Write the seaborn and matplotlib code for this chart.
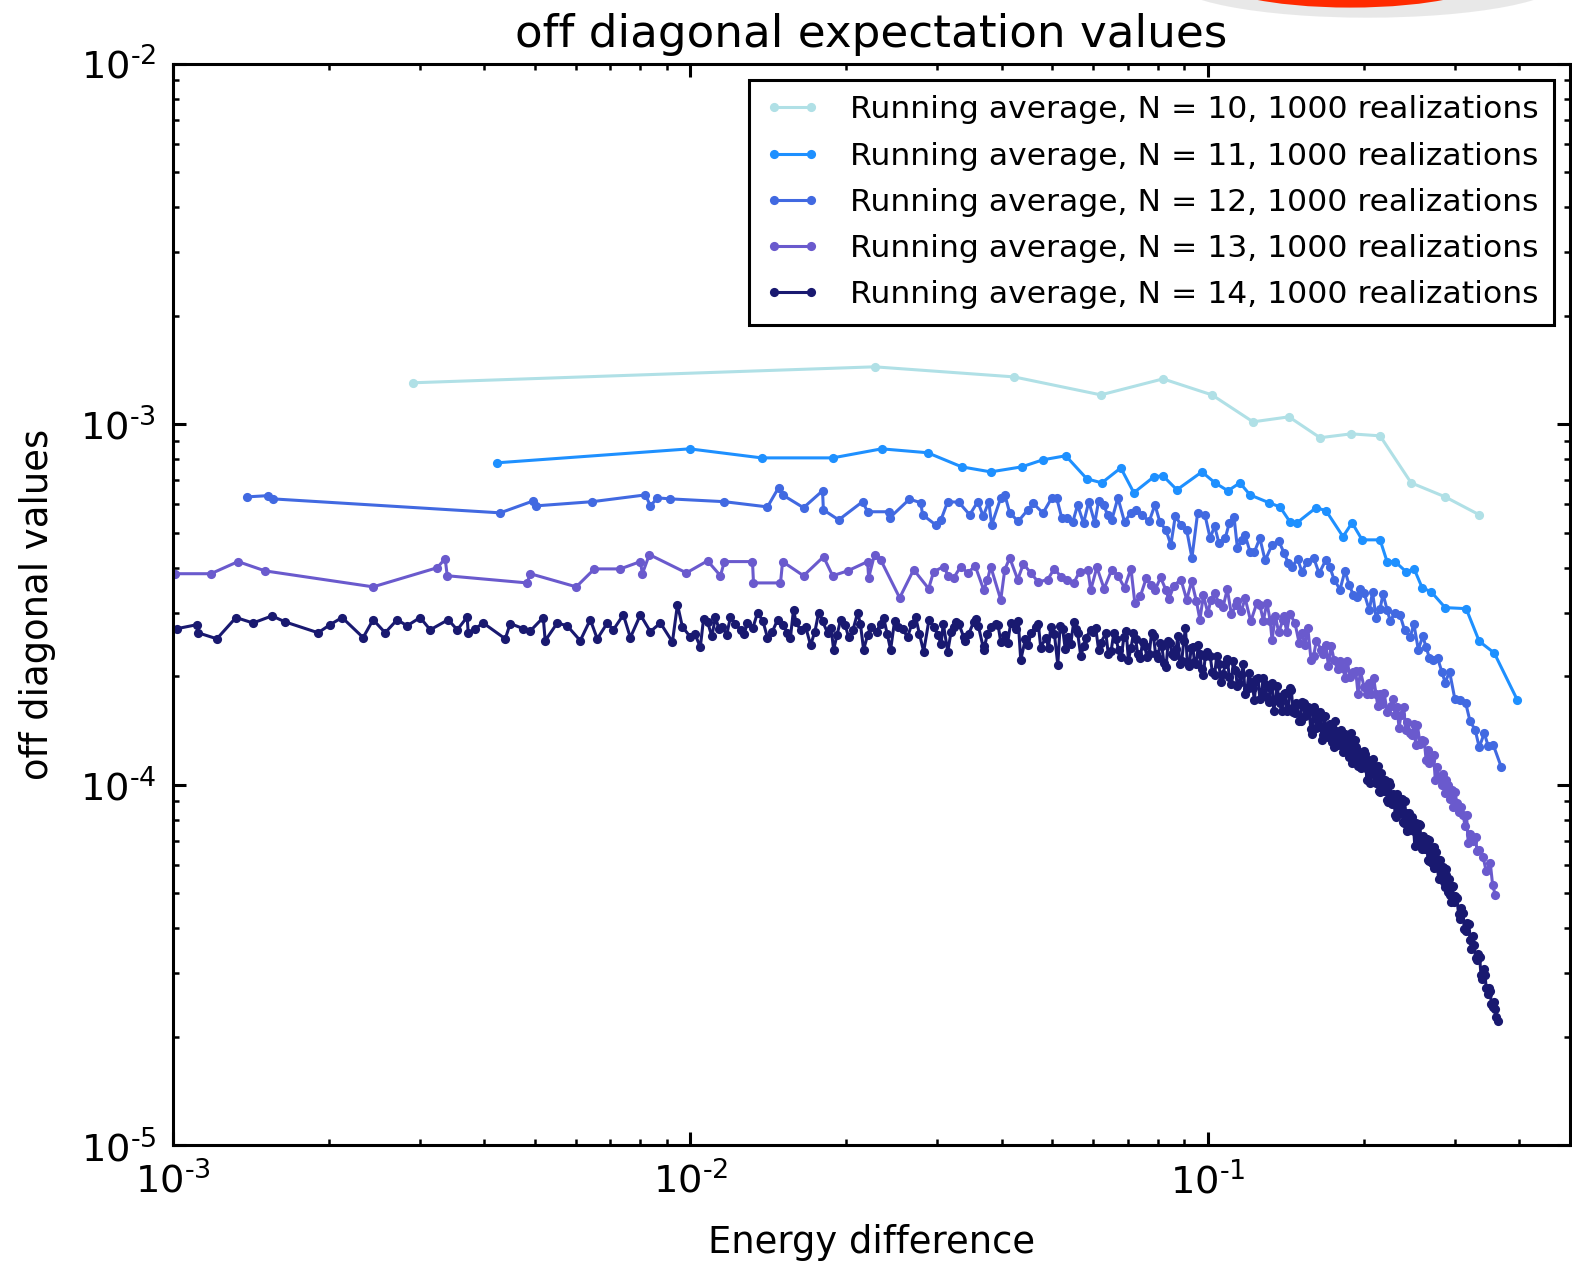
import numpy as np
import pandas as pd
import matplotlib
matplotlib.use("Agg")
import matplotlib.pyplot as plt
from matplotlib.patches import Ellipse
from matplotlib.ticker import FuncFormatter
import seaborn as sns

# energy differences are written in units of 1e-3, values in units of 1e-4
E_UNIT = 1e-3
V_UNIT = 1e-4

e10 = [2.91, 22.7, 42.2, 62.1, 81.9, 101.8, 122.2, 143.4, 164.7, 189.1, 215.1, 247.0, 287.4, 334.4]
v10 = [13.04, 14.44, 13.54, 12.07, 13.37, 12.07, 10.16, 10.49, 9.18, 9.41, 9.29, 6.88, 6.29, 5.61]

e11 = [4.23, 9.96, 13.72, 18.83, 23.41, 28.73, 33.44, 38.04, 43.67, 47.96,
       53.12, 58.34, 62.37, 67.86, 71.92, 78.62, 81.85, 87.10, 97.36, 103.2,
       109.3, 115.3, 120.6, 131.2, 137.8, 144.1, 148.6, 161.8, 169.1, 182.4,
       189.9, 198.6, 215.1, 221.9, 229.9, 241.5, 250.3, 259.4, 270.0, 287.4,
       315.5, 334.4, 357.5, 396.0]
v11 = [7.82, 8.55, 8.07, 8.07, 8.55, 8.34, 7.62, 7.38, 7.62, 7.97,
       8.18, 7.06, 6.88, 7.57, 6.46, 7.15, 7.20, 6.58, 7.38, 6.88,
       6.54, 6.88, 6.37, 6.06, 5.90, 5.36, 5.33, 5.87, 5.76, 4.88,
       5.33, 4.78, 4.78, 4.16, 4.16, 3.90, 3.97, 3.52, 3.43, 3.10,
       3.08, 2.50, 2.32, 1.72]

e12 = [1.390, 1.527, 1.561, 4.290, 4.969, 5.036, 6.461, 8.185, 8.368, 8.635,
       9.150, 11.63, 14.09, 14.80, 15.07, 16.54, 18.00, 18.07, 19.34, 21.51,
       22.00, 24.15, 24.26, 27.86, 28.10, 29.78, 31.42, 34.65, 35.91, 37.71,
       38.21, 39.78, 41.40, 44.85, 49.92, 52.18, 54.81, 58.86, 60.45, 62.92,
       65.20, 70.96, 74.51, 80.75, 84.80, 88.67, 93.13, 98.67, 105.0, 112.3,
       116.3, 120.6, 133.0, 140.3, 145.4, 155.4, 169.1, 175.3, 187.4, 194.2,
       200.3, 211.3, 221.9, 229.9, 245.9, 264.1, 272.4, 287.4, 307.2, 328.4,
       334.4, 355.9, 368.8,
       26.5, 30.5, 33.0, 36.8, 40.5, 43.0, 46.0, 48.0, 51.0, 53.5,
       56.0, 57.5, 61.5, 64.0, 67.0, 69.0, 72.5, 77.0, 79.0, 83.0,
       86.5, 91.0, 95.5, 101.0, 103.0, 108.0, 110.0, 114.0, 118.0, 123.0,
       126.0, 129.0, 137.0, 143.0, 149.0, 152.0, 160.0, 164.0, 172.0, 180.0,
       184.0, 191.0, 197.0, 205.0, 208.0, 215.0, 218.0, 225.0, 235.0, 240.0,
       250.0, 255.0, 260.0, 268.0, 278.0, 283.0, 293.0, 300.0, 315.0, 321.0,
       342.0, 348.0]
v12 = [6.29, 6.34, 6.21, 5.68, 6.13, 5.94, 6.10, 6.37, 5.94, 6.25,
       6.21, 6.10, 5.90, 6.67, 6.37, 5.87, 6.54, 5.79, 5.43, 6.10,
       5.72, 5.72, 5.50, 6.06, 5.61, 5.26, 6.10, 5.61, 6.10, 6.10,
       5.26, 6.25, 5.68, 5.79, 6.25, 5.50, 5.36, 6.10, 5.33, 5.98,
       5.43, 5.68, 5.61, 5.36, 4.63, 5.26, 4.26, 5.61, 4.69, 5.54,
       4.78, 4.43, 4.63, 4.40, 4.03, 4.16, 4.21, 3.71, 3.59, 3.32,
       3.41, 2.91, 3.06, 3.00, 2.57, 2.41, 2.22, 1.92, 1.72, 1.42,
       1.27, 1.29, 1.12,
       6.20, 5.44, 6.08, 5.56, 6.38, 5.38, 6.03, 5.67, 6.26, 5.50,
       5.97, 5.32, 6.14, 5.59, 6.25, 5.36, 5.78, 5.38, 5.98, 5.08,
       5.57, 5.08, 5.66, 4.83, 5.22, 4.83, 5.33, 4.54, 4.92, 4.43,
       4.83, 4.19, 4.75, 4.12, 4.23, 3.89, 4.27, 3.86, 4.02, 3.48,
       3.92, 3.36, 3.50, 3.05, 3.42, 3.07, 3.38, 2.85, 2.96, 2.68,
       2.79, 2.37, 2.58, 2.24, 2.24, 2.06, 2.06, 1.73, 1.68, 1.50,
       1.39, 1.28]

e13 = [0.98, 1.009, 1.184, 1.336, 1.507, 2.437, 3.241, 3.358, 3.389, 4.838, 4.903,
       6.017, 6.523, 7.321, 8.004, 8.075, 8.331, 9.824, 10.79, 11.43, 11.63,
       13.18, 13.24, 14.93, 15.07, 16.54, 18.08, 18.83, 20.13, 22.00, 22.10,
       22.69, 23.31, 25.37, 27.00, 28.86, 29.51, 30.86, 32.27, 33.29, 34.35,
       36.88, 38.04, 39.78, 41.40, 42.90, 45.46, 49.03, 51.95, 55.05, 58.60,
       59.38, 65.20, 72.23, 77.60, 82.95, 88.67, 96.50, 101.3, 105.0, 113.3,
       124.4, 133.0, 139.7, 147.3, 158.2, 165.4, 175.3, 182.4, 190.8, 200.3,
       211.3, 225.9, 236.2, 245.9, 259.4, 270.0, 279.8, 291.2, 303.1, 311.3,
       318.4, 325.5, 334.4, 351.2, 359.1,
       31.5, 35.5, 37.5, 40.5, 44.0, 47.0, 50.5, 53.5, 56.5,
       61, 63, 67, 69, 71, 74, 76, 79, 81, 84,
       86, 91, 93, 95, 98, 100, 103, 107, 109, 111,
       114, 116, 118, 121, 126, 128, 130, 132, 135, 137,
       140, 142, 144, 150, 152, 154, 156, 160, 162, 167,
       169, 171, 173, 178, 180, 184, 186, 188, 193, 195,
       197, 203, 205, 207, 209, 213, 215, 217, 219, 222,
       228, 230, 232, 234, 239, 241, 243, 248, 250, 252,
       254, 257, 262, 264, 266, 268, 273, 275, 277, 283,
       285, 287, 289, 294, 296, 298, 300, 306, 308, 314,
       316, 321, 329, 331, 340, 345, 355]
v13 = [3.85, 3.85, 3.85, 4.16, 3.92, 3.54, 4.00, 4.24, 3.80, 3.63, 3.85,
       3.54, 3.97, 3.97, 4.16, 3.85, 4.35, 3.87, 4.18, 3.80, 4.16,
       4.16, 3.63, 3.63, 4.16, 3.80, 4.29, 3.80, 3.92, 4.16, 3.75,
       4.35, 4.21, 3.30, 3.95, 3.50, 3.90, 4.03, 3.75, 4.03, 3.87,
       3.47, 4.03, 3.26, 4.26, 3.71, 3.87, 3.71, 3.78, 3.63, 3.95,
       3.47, 3.95, 3.20, 3.59, 3.47, 3.71, 2.87, 3.26, 3.20, 3.16,
       3.20, 2.52, 2.87, 2.81, 2.22, 2.37, 2.22, 2.11, 2.05, 1.87,
       1.78, 1.65, 1.56, 1.39, 1.33, 1.17, 1.05, 1.00, 0.887, 0.826,
       0.690, 0.700, 0.660, 0.607, 0.495,
       3.80, 4.05, 3.70, 3.95, 4.10, 3.65, 3.98, 3.70, 3.90,
       4.01, 3.50, 3.80, 3.52, 3.98, 3.33, 3.74, 3.46, 3.76, 3.27,
       3.57, 3.26, 3.67, 3.23, 3.35, 2.99, 3.40, 3.12, 3.49, 2.97,
       3.23, 3.03, 3.29, 2.84, 3.15, 2.85, 3.20, 2.84, 2.94, 2.65,
       2.94, 2.66, 2.98, 2.48, 2.63, 2.44, 2.72, 2.27, 2.51, 2.31,
       2.44, 2.13, 2.43, 2.09, 2.20, 1.98, 2.20, 1.99, 2.07, 1.79,
       2.07, 1.78, 1.91, 1.78, 1.98, 1.65, 1.79, 1.67, 1.80, 1.59,
       1.73, 1.56, 1.64, 1.44, 1.64, 1.42, 1.49, 1.37, 1.47, 1.29,
       1.46, 1.30, 1.32, 1.17, 1.25, 1.15, 1.21, 1.03, 1.12, 0.998,
       1.07, 0.950, 1.03, 0.912, 0.964, 0.867, 0.953, 0.839, 0.867, 0.766,
       0.824, 0.732, 0.718, 0.655, 0.632, 0.575, 0.526]

# N = 14, low energy part
e14a = [0.98, 1.018, 1.113, 1.118, 1.216, 1.324, 1.428, 1.554, 1.647, 1.908,
        2.012, 2.123, 2.331, 2.437, 2.571, 2.712, 2.835, 3.004, 3.142, 3.404,
        3.543, 3.704, 3.720, 3.838, 3.978, 4.387, 4.486, 4.753, 4.903, 5.195,
        5.241, 5.529, 5.781, 6.125, 6.405, 6.607, 6.909, 7.096, 7.420, 7.655,
        8.004, 8.368, 8.750, 9.23, 9.44, 9.65, 10.0, 10.45, 10.79, 11.18,
        11.53, 11.95, 12.50, 12.89, 13.48, 14.09, 14.74, 15.40, 15.82, 16.32,
        17.07, 17.69, 18.41, 18.91, 19.51, 20.21, 21.04, 21.61, 22.29, 23.62,
        24.37, 25.14, 26.28, 27.24, 28.23, 29.51, 31.42, 32.27, 33.73, 35.27,
        36.88, 38.04, 39.78, 41.59, 43.48, 45.46, 47.53, 49.70, 51.28, 53.61,
        55.05, 56.81, 59.38, 62.09,
        10.2, 10.6, 11.0, 11.35, 11.75, 12.2, 12.7, 13.2, 13.8, 14.4,
        15.1, 15.6, 16.0, 16.7, 17.4, 18.0, 18.7, 19.2, 19.9, 20.6,
        21.3, 22.0, 22.9, 23.3, 24.0, 24.8, 25.7, 26.8, 27.7, 28.9,
        30.1, 30.8, 31.9, 33.0, 34.5, 36.0, 37.5, 38.9, 40.6, 42.5,
        44.4, 46.5, 48.6, 50.5, 52.4, 54.3, 56.0, 58.1, 60.7,
        30.5, 32.6, 34.0, 35.6, 37.0, 39.3, 41.0, 43.0, 45.0, 47.0,
        49.2, 51.8, 53.0, 55.5, 57.5, 59.9, 61.5]
v14a = [2.71, 2.71, 2.78, 2.64, 2.54, 2.91, 2.81, 2.94, 2.83, 2.64,
        2.78, 2.91, 2.56, 2.87, 2.64, 2.87, 2.76, 2.91, 2.69, 2.87,
        2.69, 2.92, 2.64, 2.71, 2.81, 2.54, 2.80, 2.71, 2.67, 2.91,
        2.51, 2.81, 2.76, 2.51, 2.87, 2.54, 2.81, 2.69, 2.96, 2.56,
        2.96, 2.66, 2.81, 2.49, 3.16, 2.74, 2.57, 2.41, 2.83, 2.92,
        2.74, 2.92, 2.69, 2.81, 3.00, 2.56, 2.87, 2.64, 3.06, 2.69,
        2.44, 3.00, 2.64, 2.37, 2.87, 2.57, 3.00, 2.37, 2.74, 2.91,
        2.37, 2.74, 2.57, 2.92, 2.34, 2.74, 2.34, 2.74, 2.57, 2.83,
        2.37, 2.74, 2.49, 2.81, 2.22, 2.64, 2.40, 2.74, 2.15, 2.57,
        2.83, 2.27, 2.69, 2.48,
        2.62, 2.88, 2.58, 2.70, 2.60, 2.80, 2.62, 2.72, 2.85, 2.66,
        2.78, 2.55, 2.82, 2.74, 2.66, 2.84, 2.72, 2.60, 2.78, 2.68,
        2.80, 2.60, 2.66, 2.80, 2.62, 2.84, 2.70, 2.80, 2.62, 2.86,
        2.60, 2.80, 2.66, 2.80, 2.62, 2.76, 2.62, 2.80, 2.60, 2.70,
        2.54, 2.74, 2.56, 2.62, 2.70, 2.46, 2.64, 2.56, 2.72,
        2.45, 2.82, 2.50, 2.88, 2.42, 2.78, 2.47, 2.84, 2.44, 2.80,
        2.40, 2.76, 2.38, 2.70, 2.42, 2.66, 2.36]

# N = 14, high energy part (two interleaved reads of the dense band)
e14b = [63.5, 65, 66.5, 68, 69.5, 71, 72.5, 74, 75.5, 77,
        78.5, 80, 81.5, 83, 84.5, 86, 87.5, 89, 90.5, 92,
        93.5, 95, 96.5, 98, 99.5,
        101, 103, 105, 107, 109, 111, 113, 115, 117, 119,
        121, 123, 125, 127, 129, 131, 133, 135, 137, 139,
        141, 143, 145, 147, 149, 151, 153, 155, 157, 159,
        161, 163, 165, 167, 169, 171, 173, 175, 177, 179,
        181, 183, 185, 187, 189, 191, 193, 195, 197, 199,
        201, 203, 205, 207, 209, 211, 213, 215, 217, 219,
        221, 223, 225, 227, 229, 231, 233, 235, 237, 239,
        241, 243, 245, 247, 249, 251, 253, 255, 257, 259,
        261, 263, 265, 267, 269, 271, 273, 275, 277, 279,
        281, 283, 285, 287, 289, 291, 293, 295, 297, 299,
        303, 307, 311, 315, 319, 323, 327, 331, 335, 339,
        343, 347, 351, 355, 359, 363]
v14b = [2.63, 2.35, 2.53, 2.26, 2.67, 2.39, 2.53, 2.25, 2.43, 2.30,
        2.58, 2.24, 2.42, 2.12, 2.47, 2.27, 2.59, 2.20, 2.72, 2.13,
        2.41, 2.16, 2.30, 2.01, 2.34,
        2.28, 2.01, 2.16, 2.03, 2.23, 1.90, 2.08, 1.91, 2.16, 1.84,
        1.93, 1.72, 1.98, 1.81, 1.90, 1.70, 1.91, 1.72, 1.75, 1.60,
        1.80, 1.63, 1.83, 1.58, 1.67, 1.50, 1.69, 1.56, 1.60, 1.38,
        1.57, 1.45, 1.59, 1.37, 1.45, 1.36, 1.47, 1.27, 1.41, 1.32,
        1.42, 1.25, 1.32, 1.19, 1.39, 1.20, 1.27, 1.13, 1.20, 1.12,
        1.22, 1.03, 1.15, 1.07, 1.13, 1.01, 1.13, 0.952, 1.03, 0.959,
        1.01, 0.898, 1.00, 0.884, 0.913, 0.816, 0.914, 0.836, 0.911, 0.783,
        0.836, 0.744, 0.835, 0.753, 0.779, 0.677, 0.770, 0.699, 0.773, 0.663,
        0.701, 0.663, 0.706, 0.615, 0.670, 0.607, 0.672, 0.592, 0.618, 0.547,
        0.620, 0.563, 0.586, 0.519, 0.584, 0.504, 0.524, 0.473, 0.523, 0.472,
        0.484, 0.424, 0.441, 0.393, 0.410, 0.349, 0.360, 0.326, 0.333, 0.289,
        0.297, 0.263, 0.267, 0.242, 0.239, 0.221]

e14c = [64.2, 65.8, 67.2, 68.8, 70.2, 71.8, 73.2, 74.8, 76.2, 77.8,
        79.2, 80.8, 82.2, 83.8, 85.2, 86.8, 88.2, 89.8, 91.2, 92.8,
        94.2, 95.8, 97.2, 98.8,
        102, 104, 106, 108, 110, 112, 114, 116, 118, 120,
        122, 124, 126, 128, 130, 132, 134, 136, 138, 140,
        142, 144, 146, 148, 150, 152, 154, 156, 158, 160,
        162, 164, 166, 168, 170, 172, 174, 176, 178, 180,
        182, 184, 186, 188, 190, 192, 194, 196, 198, 200,
        202, 204, 206, 208, 210, 212, 214, 216, 218, 220,
        222, 224, 226, 228, 230, 232, 234, 236, 238, 240,
        242, 244, 246, 248, 250, 252, 254, 256, 258, 260,
        262, 264, 266, 268, 270, 272, 274, 276, 278, 280,
        282, 284, 286, 288, 290, 292, 294, 296, 298, 300,
        305, 309, 313, 317, 321, 325, 329, 333, 337, 341,
        345, 349, 353, 357, 361]
v14c = [2.30, 2.64, 2.36, 2.57, 2.22, 2.63, 2.30, 2.49, 2.26, 2.63,
        2.31, 2.47, 2.18, 2.50, 2.30, 2.38, 2.16, 2.50, 2.19, 2.39,
        2.19, 2.44, 2.09, 2.27,
        2.05, 2.28, 1.93, 2.16, 1.99, 2.21, 1.88, 2.02, 1.78, 2.04,
        1.86, 1.97, 1.73, 1.98, 1.75, 1.85, 1.60, 1.88, 1.69, 1.79,
        1.60, 1.86, 1.59, 1.68, 1.50, 1.70, 1.55, 1.64, 1.43, 1.64,
        1.44, 1.53, 1.33, 1.55, 1.39, 1.47, 1.31, 1.50, 1.29, 1.37,
        1.23, 1.38, 1.26, 1.33, 1.15, 1.33, 1.17, 1.23, 1.11, 1.24,
        1.11, 1.17, 1.01, 1.18, 1.02, 1.07, 0.961, 1.08, 0.978, 1.03,
        0.906, 1.02, 0.893, 0.940, 0.824, 0.941, 0.836, 0.879, 0.789, 0.900,
        0.750, 0.810, 0.751, 0.816, 0.743, 0.783, 0.690, 0.780, 0.675, 0.721,
        0.668, 0.705, 0.620, 0.702, 0.619, 0.647, 0.586, 0.649, 0.589, 0.620,
        0.551, 0.592, 0.536, 0.563, 0.520, 0.546, 0.493, 0.519, 0.478, 0.492,
        0.437, 0.454, 0.397, 0.412, 0.370, 0.380, 0.331, 0.338, 0.296, 0.308,
        0.273, 0.273, 0.246, 0.250, 0.226]

sizes = [10, 11, 12, 13, 14]
colors = ["#b0e0e6", "#1e90ff", "#4169e1", "#6a5acd", "#191970"]
series = {
    10: (e10, v10),
    11: (e11, v11),
    12: (e12, v12),
    13: (e13, v13),
    14: (e14a + e14b + e14c, v14a + v14b + v14c),
}

frames = []
for n in sizes:
    e, v = series[n]
    frames.append(pd.DataFrame({"energy": np.array(e) * E_UNIT,
                                "value": np.array(v) * V_UNIT,
                                "N": n}))
df = pd.concat(frames, ignore_index=True)

sns.set_style("ticks", {
    "xtick.direction": "in", "ytick.direction": "in",
    "xtick.top": True, "ytick.right": True,
    "axes.edgecolor": "black", "text.color": "black",
    "axes.labelcolor": "black", "xtick.color": "black", "ytick.color": "black",
})
plt.rcParams["font.family"] = ["DejaVu Sans"]
plt.rcParams.update({
    "axes.unicode_minus": False,
    "axes.linewidth": 1.1,
    "xtick.major.size": 4.6, "ytick.major.size": 4.6,
    "xtick.minor.size": 2.3, "ytick.minor.size": 2.3,
    "xtick.major.width": 1.1, "ytick.major.width": 1.1,
    "xtick.minor.width": 0.9, "ytick.minor.width": 0.9,
    "xtick.major.pad": 6, "ytick.major.pad": 6,
    "xtick.labelsize": 13.8, "ytick.labelsize": 13.8,
})

fig, ax = plt.subplots(figsize=(7.86, 6.32), dpi=200)
fig.subplots_adjust(left=0.110, right=0.9985, bottom=0.0941, top=0.9494)

for n, c in zip(sizes, colors):
    sns.lineplot(data=df[df["N"] == n], x="energy", y="value", ax=ax,
                 color=c, linewidth=1.1, marker=".", markersize=6.6,
                 markeredgecolor=c, markeredgewidth=0, estimator=None,
                 sort=True, label=f"Running average, N = {n}, 1000 realizations")

ax.set_xscale("log")
ax.set_yscale("log")
ax.set_xlim(1e-3, 0.5)
ax.set_ylim(1e-5, 1e-2)


def decade_label(val, pos):
    k = int(round(np.log10(val)))
    sign = r"\text{-}" if k < 0 else ""
    return r"$\mathdefault{10^{%s%d}}$" % (sign, abs(k))


def decade_label_plain(val, pos):
    k = int(round(np.log10(val)))
    return r"$\mathdefault{10^{%d}}$" % k


ax.xaxis.set_major_formatter(FuncFormatter(decade_label))
ax.yaxis.set_major_formatter(FuncFormatter(decade_label))
try:
    fig.canvas.draw()
except Exception:
    ax.xaxis.set_major_formatter(FuncFormatter(decade_label_plain))
    ax.yaxis.set_major_formatter(FuncFormatter(decade_label_plain))

ax.set_title("off diagonal expectation values", fontsize=16.3, pad=6)
ax.set_xlabel("Energy difference", fontsize=13.3, labelpad=8)
ax.set_ylabel("off diagonal values", fontsize=13.3, labelpad=8.5)

leg = ax.legend(loc="upper right", fontsize=11.3, numpoints=2, frameon=True,
                fancybox=False, edgecolor="black", framealpha=1,
                handlelength=1.78, handletextpad=0.92, labelspacing=0.55,
                borderpad=0.5, borderaxespad=0.5)
leg.get_frame().set_linewidth(1.1)

# red marker stroke cut off at the top edge of the picture
fig.add_artist(Ellipse((0.870, 1.016), 0.25, 0.060, transform=fig.transFigure,
                       color="#9a9a9a", alpha=0.22, lw=0))
fig.add_artist(Ellipse((0.859, 1.020), 0.185, 0.052, transform=fig.transFigure,
                       color="#ff2a00", lw=0))

fig.savefig("out.png", dpi=200)
